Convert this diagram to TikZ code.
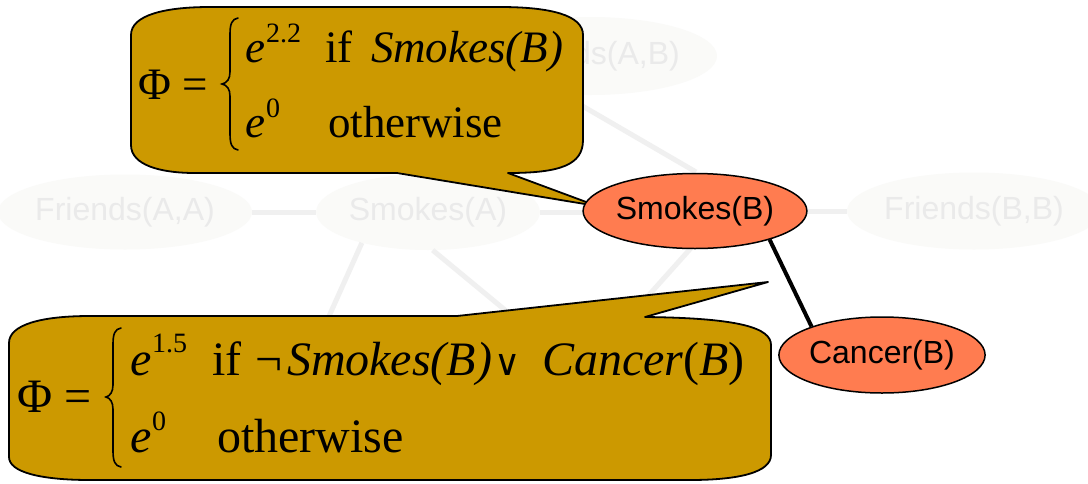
\documentclass[tikz,border=0pt]{standalone}
\usepackage{fontspec}
\setmainfont{Liberation Serif}
\newfontfamily\lsans{Liberation Sans}
\newfontfamily\dvserif{DejaVu Serif}
\usetikzlibrary{shapes.geometric}
\definecolor{gold}{RGB}{204,153,0}
\definecolor{coral}{RGB}{255,124,80}
\definecolor{ghostfill}{RGB}{250,250,248}
\definecolor{ghosttext}{RGB}{234,234,234}
\definecolor{ghostline}{RGB}{240,240,240}
\begin{document}
\begin{tikzpicture}[x=1pt,y=-1pt,
  ghost/.style={ellipse, fill=ghostfill, draw=none, inner sep=0, text=ghosttext, font=\lsans\fontsize{32}{38}\selectfont},
  ghostedge/.style={draw=ghostline, line width=5pt},
  atom/.style={ellipse, fill=coral, draw=black, line width=1.5pt, inner sep=0, font=\lsans\fontsize{32}{38}\selectfont},
  callout/.style={fill=gold, draw=black, line width=1.8pt, line join=round},
  txt/.style={anchor=base west, inner sep=0, outer sep=0},
  bigt/.style={font=\fontsize{45}{50}\selectfont},
  bigb/.style={font=\fontsize{48}{54}\selectfont},
  sup/.style={font=\fontsize{28}{30}\selectfont},
  brace/.style={draw=black, line width=1.6pt, line cap=round},
  link/.style={draw=black, line width=4pt}]
\useasboundingbox (0,0) rectangle (1088,483);
\fill[white] (0,0) rectangle (1088,483);

% faint background network
\node[ghost, minimum width=230, minimum height=75] (faa) at (125,212) {Friends(A,A)};
\node[ghost, minimum width=192, minimum height=76] (sa) at (428,212) {Smokes(A)};
\node[ghost, minimum width=226, minimum height=77] (fbb) at (974,211) {Friends(B,B)};
\node[ghost, minimum width=200, minimum height=78] (fab) at (590,56) {Friends(A,B)};
\coordinate (ca) at (304,372);
\coordinate (fba) at (580,372);
\draw[ghostedge] (faa) -- (sa);
\draw[ghostedge] (sa) -- (670,212);
\draw[ghostedge] (sa.205) -- (ca);
\draw[ghostedge] (sa.277) -- (fba);
\draw[ghostedge] (fab.234) -- (696,172);
\draw[ghostedge] (691,248) -- (fba);
\draw[ghostedge] (760,211) -- (fbb);

% top callout
\draw[callout] (131,145) -- (131,35)
  .. controls (131,15) and (165,7) .. (210,7) -- (500,7)
  .. controls (550,7) and (583,15) .. (583,35) -- (583,140)
  .. controls (583,165) and (560,173) .. (508,173) -- (597,206) -- (397,173) -- (195,173)
  .. controls (160,173) and (131,165) .. (131,145) -- cycle;

% bottom callout
\draw[callout] (9,457) -- (9,343)
  .. controls (9,325) and (40,316) .. (90,316) -- (457,316) -- (768,282) -- (645,317)
  .. controls (740,318) and (771,328) .. (771,345) -- (771,455)
  .. controls (771,472) and (740,480) .. (690,480) -- (90,480)
  .. controls (40,480) and (9,472) .. (9,457) -- cycle;

% nodes of interest
\node[atom, minimum width=200, minimum height=75] (sb) at (695,211) {Smokes(B)};
\node[atom, minimum width=199, minimum height=76] (cb) at (882,355) {Cancer(B)};
\draw[link] (sb.339) -- (cb.158);

% top formula
\node[txt, bigt] (phiT) at (138,99) {Φ =};
\draw[brace] (238,18) .. controls (232,19) and (230,24) .. (230,34) -- (230,72)
  .. controls (230,79) and (227,83) .. (222,84)
  .. controls (227,85) and (230,89) .. (230,96) -- (230,134)
  .. controls (230,144) and (232,149) .. (238,150);
\node[txt, font=\fontsize{45}{50}\selectfont\itshape] (eT1) at (245,62) {e};
\node[txt, sup] (xT1) at (266,42) {2.2};
\node[txt, bigt] (ifT) at (325,62) {if};
\node[txt, font=\fontsize{45}{50}\selectfont\itshape] (smT) at (371,62) {Smokes(B)};
\node[txt, font=\fontsize{45}{50}\selectfont\itshape] (eT2) at (245,137) {e};
\node[txt, sup] (xT2) at (266,117) {0};
\node[txt, bigt] (otT) at (328,137) {otherwise};

% bottom formula
\node[txt, bigb] (phiB) at (17,412) {Φ =};
\draw[brace] (121,328) .. controls (115,329) and (113,334) .. (113,344) -- (113,385)
  .. controls (113,392) and (110,396) .. (106,397)
  .. controls (110,398) and (113,402) .. (113,409) -- (113,451)
  .. controls (113,461) and (115,466) .. (121,467);
\node[txt, font=\fontsize{48}{54}\selectfont\itshape] (eB1) at (130,375) {e};
\node[txt, sup] (xB1) at (152,352) {1.5};
\node[txt, bigb] (ifB) at (212,375) {if};
\node[txt, bigb] (negB) at (255,375) {¬};
\node[txt, font=\fontsize{48}{54}\selectfont\itshape] (smB) at (287,375) {Smokes(B)};
\node[txt, font=\dvserif\fontsize{36}{42}\selectfont] (orB) at (494,375) {∨};
\node[txt, bigb] (caB) at (542,375) {\textit{Cancer}(\textit{B})};
\node[txt, font=\fontsize{48}{54}\selectfont\itshape] (eB2) at (130,452) {e};
\node[txt, sup] (xB2) at (152,430) {0};
\node[txt, bigb] (otB) at (217,452) {otherwise};
\end{tikzpicture}
\end{document}
